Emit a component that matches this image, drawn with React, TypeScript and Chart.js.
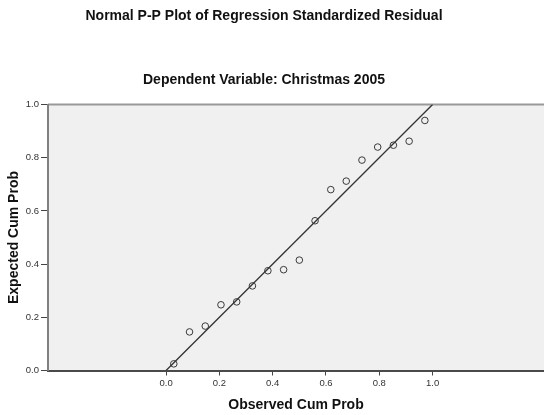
import React, { useEffect, useRef } from "react";
import { Chart, registerables } from "chart.js";

Chart.register(...registerables);

const chartTitle = "Normal P-P Plot of Regression Standardized Residual";
const chartSubtitle = "Dependent Variable: Christmas 2005";
const xAxisTitle = "Observed Cum Prob";
const yAxisTitle = "Expected Cum Prob";

const observedCumProb = [0.029, 0.088, 0.147, 0.206, 0.265, 0.324, 0.382, 0.441, 0.5, 0.559, 0.618, 0.676, 0.735, 0.794, 0.853, 0.912, 0.971];
const expectedCumProb = [0.025, 0.145, 0.167, 0.247, 0.258, 0.318, 0.375, 0.379, 0.415, 0.563, 0.68, 0.712, 0.791, 0.84, 0.847, 0.862, 0.94];
const referenceLineX = [0, 1];
const referenceLineY = [0, 1];
const xTickValues = [0, 0.2, 0.4, 0.6, 0.8, 1.0];
const xMin = -0.443;
const xMax = 1.418;

const FONT = "Arial, 'Liberation Sans', Helvetica, sans-serif";

const backgroundPlugin = {
  id: "plotBackground",
  beforeDraw(chart: any) {
    const { ctx, chartArea } = chart;
    ctx.save();
    ctx.fillStyle = "#f0f0f0";
    ctx.fillRect(chartArea.left, chartArea.top, chartArea.right - chartArea.left, chartArea.bottom - chartArea.top);
    ctx.strokeStyle = "#999999";
    ctx.lineWidth = 2;
    ctx.beginPath();
    ctx.moveTo(chartArea.left, chartArea.top);
    ctx.lineTo(chartArea.right, chartArea.top);
    ctx.stroke();
    ctx.restore();
  },
  afterDraw(chart: any) {
    const { ctx } = chart;
    ctx.save();
    ctx.fillStyle = "#111";
    ctx.textAlign = "center";
    ctx.textBaseline = "middle";
    ctx.font = `bold 14px ${FONT}`;
    ctx.fillText(chartTitle, 264, 16);
    ctx.fillText(chartSubtitle, 264, 80.5);
    ctx.restore();
  },
};

export default function App() {
  const ref = useRef<HTMLCanvasElement>(null);
  useEffect(() => {
    document.body.style.margin = "0";
    const chart = new Chart(ref.current!, {
      type: "scatter",
      data: {
        datasets: [
          {
            type: "line",
            data: referenceLineX.map((x, i) => ({ x, y: referenceLineY[i] })),
            borderColor: "#333333",
            borderWidth: 1.3,
            pointRadius: 0,
            fill: false,
          },
          {
            data: observedCumProb.map((x, i) => ({ x, y: expectedCumProb[i] })),
            pointRadius: 3.3,
            pointBorderWidth: 1,
            pointBorderColor: "#3a3a3a",
            pointBackgroundColor: "rgba(0,0,0,0)",
            showLine: false,
          },
        ],
      },
      options: {
        animation: false,
        responsive: false,
        layout: { autoPadding: false, padding: { top: 104.5, left: 0, right: 0, bottom: 0 } },
        plugins: { legend: { display: false }, tooltip: { enabled: false }, title: { display: false } },
        scales: {
          x: {
            type: "linear",
            min: xMin,
            max: xMax,
            afterBuildTicks: (scale: any) => {
              scale.ticks = xTickValues.map((v) => ({ value: v }));
            },
            afterFit: (scale: any) => {
              scale.height = 44.5;
            },
            ticks: {
              callback: (v: any) => Number(v).toFixed(1),
              font: { family: FONT, size: 9.5 },
              color: "#333",
              padding: 2.5,
              maxRotation: 0,
              autoSkip: false,
            },
            grid: { drawOnChartArea: false, drawTicks: true, tickLength: 5, tickColor: "#444", tickWidth: 1 },
            border: { display: true, color: "#4a4a4a", width: 2 },
            title: {
              display: true,
              text: xAxisTitle,
              font: { family: FONT, size: 14, weight: "bold" },
              color: "#111",
              padding: { top: 0, bottom: 1.6 },
            },
          },
          y: {
            type: "linear",
            min: 0,
            max: 1,
            afterFit: (scale: any) => {
              scale.width = 48;
            },
            ticks: {
              stepSize: 0.2,
              callback: (v: any) => Number(v).toFixed(1),
              font: { family: FONT, size: 9.5 },
              color: "#333",
              padding: 2,
            },
            grid: { drawOnChartArea: false, drawTicks: true, tickLength: 7, tickColor: "#444", tickWidth: 1 },
            border: { display: true, color: "#808080", width: 2 },
            title: {
              display: true,
              text: yAxisTitle,
              font: { family: FONT, size: 14, weight: "bold" },
              color: "#111",
              padding: { top: 6.1, bottom: 0 },
            },
          },
        },
      },
      plugins: [backgroundPlugin],
    });
    return () => chart.destroy();
  }, []);
  return (
    <div style={{ position: "fixed", left: 0, top: 0, width: 544, height: 415 }}>
      <canvas ref={ref} width={544} height={415} />
    </div>
  );
}
